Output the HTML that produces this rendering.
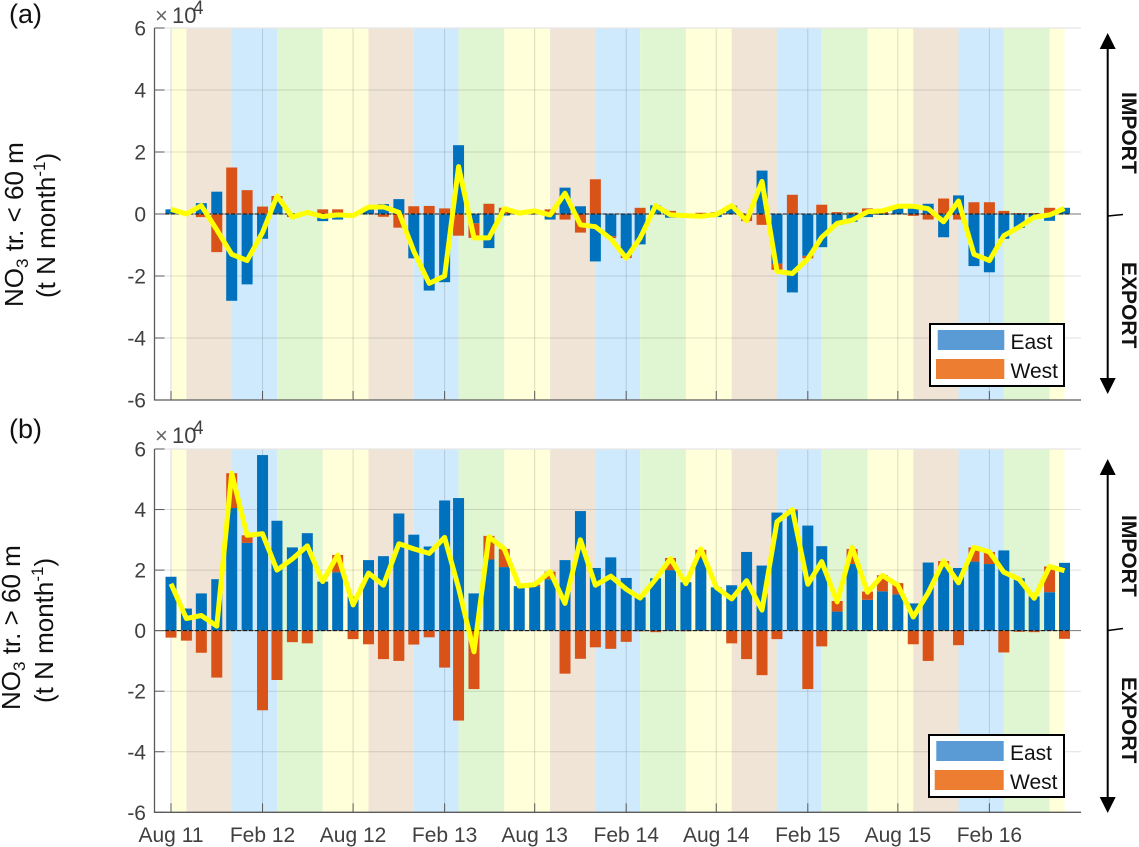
<!DOCTYPE html>
<html lang="en">
<head>
<meta charset="utf-8">
<title>NO3 transport charts</title>
<style>
html,body{margin:0;padding:0;background:#fff;width:1139px;height:847px;overflow:hidden}
svg{display:block;font-family:"Liberation Sans",sans-serif;filter:blur(0.35px)}
</style>
</head>
<body>
<svg id="chart" width="1139" height="847" viewBox="0 0 1139 847" xmlns="http://www.w3.org/2000/svg">
  <g id="plot-a"></g>
  <g id="plot-b"></g>

  <text x="9" y="23" font-size="27" fill="#111">(a)</text>
  <text x="9" y="438" font-size="27" fill="#111">(b)</text>

  <text y="23" font-size="22" fill="#404040"><tspan x="155" fill="#666">×</tspan><tspan x="172">10</tspan><tspan x="193" y="14" font-size="19">4</tspan></text>
  <text y="443" font-size="22" fill="#404040"><tspan x="155" fill="#666">×</tspan><tspan x="172">10</tspan><tspan x="193" y="434" font-size="19">4</tspan></text>

  <text transform="translate(23,307) rotate(-90)" font-size="26" fill="#111">NO<tspan font-size="17" dy="5">3</tspan><tspan dy="-5"> tr. &lt; 60 m</tspan></text>
  <text transform="translate(55,298) rotate(-90)" font-size="26" fill="#111">(t N month<tspan font-size="17" dy="-10">-1</tspan><tspan dy="10">)</tspan></text>
  <text transform="translate(20,710) rotate(-90)" font-size="26" fill="#111">NO<tspan font-size="17" dy="5">3</tspan><tspan dy="-5"> tr. &gt; 60 m</tspan></text>
  <text transform="translate(53,703) rotate(-90)" font-size="26" fill="#111">(t N month<tspan font-size="17" dy="-10">-1</tspan><tspan dy="10">)</tspan></text>

  <g fill="#000" stroke="none">
    <rect x="1106.7" y="45" width="2" height="338"/>
    <polygon points="1107.7,33 1115.7,49 1099.7,49"/>
    <polygon points="1107.7,394 1115.7,378 1099.7,378"/>
    <line x1="1108" y1="216" x2="1123" y2="214.5" stroke="#000" stroke-width="1.6"/>
  </g>
  <text transform="translate(1122,92) rotate(90)" font-size="21" font-weight="bold" fill="#111">IMPORT</text>
  <text transform="translate(1122,262) rotate(90)" font-size="21" font-weight="bold" fill="#111">EXPORT</text>

  <g fill="#000" stroke="none">
    <rect x="1106.7" y="471" width="2" height="330"/>
    <polygon points="1107.7,459 1115.7,475 1099.7,475"/>
    <polygon points="1107.7,813 1115.7,797 1099.7,797"/>
    <line x1="1108" y1="630.5" x2="1123" y2="628.5" stroke="#000" stroke-width="1.6"/>
  </g>
  <text transform="translate(1122,515) rotate(90)" font-size="21" font-weight="bold" fill="#111">IMPORT</text>
  <text transform="translate(1122,677) rotate(90)" font-size="21" font-weight="bold" fill="#111">EXPORT</text>

  <g id="legend-a"></g>
  <g id="legend-b"></g>
</svg>
<script>
// Monthly series, values in units of 1e4 t N month-1; index 0 is Aug 2011
const eastA = [0.15,0,0.35,0.72,-2.8,-2.27,-0.8,0.45,0,0.05,-0.23,-0.18,-0.03,0.2,0.32,0.48,-1.43,-2.47,-2.2,2.22,-0.3,-1.1,-0.05,0,0.1,-0.18,0.85,0.25,-1.53,-0.72,-1.35,-0.98,0.28,-0.12,-0.05,-0.1,-0.1,0.25,0,1.4,-1.6,-2.53,-1.35,-1.07,-0.35,-0.25,-0.1,-0.03,0.2,0.28,0.33,-0.75,0.6,-1.68,-1.88,-0.8,-0.45,-0.1,-0.22,0.2];
const westA = [0,0,-0.1,-1.23,1.5,0.77,0.24,0.13,-0.1,0,0.15,0.15,-0.02,0.02,-0.09,-0.44,0.25,0.26,0.18,-0.7,-0.47,0.33,0.2,0.03,0,0.15,-0.18,-0.6,1.12,-0.06,-0.07,0.2,-0.01,0.1,0,0.04,0.06,0.02,-0.23,-0.35,-0.2,0.62,-0.08,0.3,0.06,0.05,0.18,0.12,0.05,-0.06,-0.18,0.5,-0.18,0.38,0.38,0.1,0.03,0.03,0.2,0];
const netA = [0.15,0,0.27,-0.51,-1.3,-1.5,-0.6,0.58,-0.1,0.05,-0.08,-0.03,-0.05,0.22,0.23,0.05,-1.2,-2.24,-2.0,1.53,-0.77,-0.77,0.17,0.03,0.1,-0.03,0.67,-0.35,-0.41,-0.8,-1.42,-0.78,0.27,-0.03,-0.05,-0.07,-0.02,0.27,-0.22,1.05,-1.85,-1.92,-1.45,-0.75,-0.3,-0.2,0.07,0.1,0.25,0.25,0.17,-0.25,0.42,-1.3,-1.5,-0.7,-0.42,-0.1,-0.03,0.18];
const eastB = [1.78,0.73,1.23,1.7,4.05,2.9,5.8,3.63,2.75,3.22,1.62,1.93,1.12,2.33,2.46,3.87,3.17,2.78,4.3,4.38,1.23,2.35,2.1,1.47,1.47,1.7,2.33,3.95,2.07,2.42,1.74,1.1,1.73,2.0,1.6,2.4,1.43,1.5,2.6,2.15,3.9,3.95,3.47,2.79,0.63,2.2,1.02,1.3,1.2,0.9,2.25,2.1,2.07,2.28,2.2,2.65,1.73,1.13,1.27,2.24];
const westB = [-0.23,-0.33,-0.73,-1.55,1.15,0.25,-2.63,-1.63,-0.38,-0.42,0,0.57,-0.28,-0.45,-0.94,-1.0,-0.46,-0.22,-1.22,-2.97,-1.93,0.78,0.6,0,0.05,0.25,-1.42,-0.93,-0.55,-0.6,-0.37,-0.02,-0.05,0.4,-0.02,0.27,0,-0.42,-0.94,-1.47,-0.28,0.05,-1.93,-0.52,0.35,0.5,0.27,0.53,0.37,-0.45,-1.0,0.2,-0.48,0.47,0.4,-0.72,-0.04,-0.05,0.85,-0.27];
const netB = [1.55,0.4,0.5,0.15,5.2,3.15,3.2,2.0,2.37,2.8,1.62,2.5,0.85,1.9,1.5,2.87,2.7,2.55,3.08,1.41,-0.7,3.1,2.7,1.47,1.52,1.95,0.9,3.0,1.5,1.8,1.37,1.08,1.7,2.38,1.55,2.7,1.43,1.05,1.65,0.68,3.6,4.0,1.53,2.28,0.95,2.75,1.27,1.82,1.5,0.45,1.25,2.3,1.58,2.75,2.6,1.93,1.7,1.07,2.12,1.98];

const yTicks = [-6,-4,-2,0,2,4,6];
const xTickMonths = [0,6,12,18,24,30,36,42,48,54];
const xTickLabels = ['Aug 11','Feb 12','Aug 12','Feb 13','Aug 13','Feb 14','Aug 14','Feb 15','Aug 15','Feb 16'];
const seasonStarts = [0,1,4,7,10,13,16,19,22,25,28,31,34,37,40,43,46,49,52,55,58,59];
const seasonNames = ['summer','autumn','winter','spring','summer','autumn','winter','spring','summer','autumn','winter','spring','summer','autumn','winter','spring','summer','autumn','winter','spring','summer'];
const seasonColors = {summer:'#ffffd9',autumn:'#efe4d6',winter:'#cfeafd',spring:'#e0f5d1'};

const NS = 'http://www.w3.org/2000/svg';
const BAR_W = 11;

function node(parent, tag, attrs) {
  const el = document.createElementNS(NS, tag);
  for (const k in attrs) el.setAttribute(k, attrs[k]);
  parent.appendChild(el);
  return el;
}
function xAxis(month) {
  const days = (Date.UTC(2011, 7 + month, 1) - Date.UTC(2011, 7, 1)) / 86400000;
  return 171 + days * 0.4975;
}

function drawPanel(id, top, bottom, east, west, net, showLabels) {
  const g = document.getElementById(id);
  const left = 154.5, right = 1081;
  const yAxis = v => (top + bottom) / 2 - v * (bottom - top) / 12;

  seasonNames.forEach((name, i) => {
    const r = node(g, 'rect', {x: xAxis(seasonStarts[i]), y: top, width: xAxis(seasonStarts[i + 1]) - xAxis(seasonStarts[i]), height: bottom - top, fill: seasonColors[name]});
    
    
  });

  yTicks.forEach(v => {
    if (v === 0 || v === -6) return;
    const l = node(g, 'line', {x1: left, x2: right, y1: yAxis(v), y2: yAxis(v), stroke: '#000', 'stroke-opacity': 0.12, 'stroke-width': 1});
    
    
  });
  xTickMonths.forEach(m => {
    const l = node(g, 'line', {x1: xAxis(m), x2: xAxis(m), y1: top, y2: bottom, stroke: '#000', 'stroke-opacity': 0.14, 'stroke-width': 1});
    
    
  });

  east.forEach((e, i) => {
    const w = west[i];
    const cx = xAxis(i);
    let pos = 0, neg = 0;
    [[e, '#0072bd', 'bar-east'], [w, '#d95319', 'bar-west']].forEach(([v, fill, name]) => {
      if (v === 0) return;
      const start = v > 0 ? pos : neg;
      const end = start + v;
      if (v > 0) pos = end; else neg = end;
      const bar = node(g, 'rect', {x: cx - BAR_W / 2, width: BAR_W, y: Math.min(yAxis(start), yAxis(end)), height: Math.abs(yAxis(end) - yAxis(start)), fill: fill});
      
      
    });
  });

  const z1 = node(g, 'line', {x1: left, x2: right, y1: yAxis(0), y2: yAxis(0), stroke: '#777', 'stroke-width': 1});
  
  
  const z2 = node(g, 'line', {x1: xAxis(0) - 6, x2: xAxis(59) + 6, y1: yAxis(0), y2: yAxis(0), stroke: '#111', 'stroke-width': 1, 'stroke-dasharray': '4 2'});
  
  

  const pts = net.map((v, i) => xAxis(i).toFixed(1) + ',' + yAxis(v).toFixed(1)).join(' ');
  const line = node(g, 'polyline', {points: pts, fill: 'none', stroke: '#ffff00', 'stroke-width': 5, 'stroke-linejoin': 'round'});
  
  

  const topEdge = node(g, 'line', {x1: left, x2: right, y1: top, y2: top, stroke: '#e6e6e6', 'stroke-width': 1.2});
  
  
  const ax = node(g, 'path', {d: `M${left} ${top}V${bottom}H${right}`, fill: 'none', stroke: '#5a5a5a', 'stroke-width': 1.3});
  
  

  yTicks.forEach(v => {
    const t = node(g, 'line', {x1: left, x2: left + 10, y1: yAxis(v), y2: yAxis(v), stroke: '#5a5a5a', 'stroke-width': 1});
    
    
    const lab = node(g, 'text', {x: 146, y: yAxis(v) + 7.5, 'text-anchor': 'end', 'font-size': 21, fill: '#404040'});
    
    
    lab.textContent = v;
  });

  xTickMonths.forEach((m, i) => {
    const t = node(g, 'line', {x1: xAxis(m), x2: xAxis(m), y1: bottom, y2: bottom - 9, stroke: '#5a5a5a', 'stroke-width': 1});
    
    
    if (showLabels) {
      const lab = node(g, 'text', {x: xAxis(m), y: 842, 'text-anchor': 'middle', 'font-size': 21, fill: '#404040'});
      
      
      lab.textContent = xTickLabels[i];
    }
  });
}

function drawLegend(id, box, east, west, textX) {
  const g = document.getElementById(id);
  const frame = node(g, 'rect', {x: box[0], y: box[1], width: box[2], height: box[3], fill: '#fff', stroke: '#000', 'stroke-width': 2});
  
  
  const eastSwatch = node(g, 'rect', {x: east[0], y: east[1], width: east[2], height: 20, fill: '#5b9bd5'});
  
  
  const westSwatch = node(g, 'rect', {x: west[0], y: west[1], width: west[2], height: 20, fill: '#ed7d31'});
  
  
  const eastLabel = node(g, 'text', {x: textX, y: east[1] + 19, 'font-size': 21, fill: '#111'});
  
  
  eastLabel.textContent = 'East';
  const westLabel = node(g, 'text', {x: textX, y: west[1] + 19, 'font-size': 21, fill: '#111'});
  
  
  westLabel.textContent = 'West';
}

drawPanel('plot-a', 28, 400, eastA, westA, netA, false);
drawPanel('plot-b', 449, 812.3, eastB, westB, netB, true);
drawLegend('legend-a', [930, 324, 134, 62], [937.7, 330, 66.6], [936, 359, 68.3], 1010.5);
drawLegend('legend-b', [929, 735, 135, 62], [936.3, 741, 67.4], [934.7, 770, 69], 1010);
</script>
</body>
</html>
